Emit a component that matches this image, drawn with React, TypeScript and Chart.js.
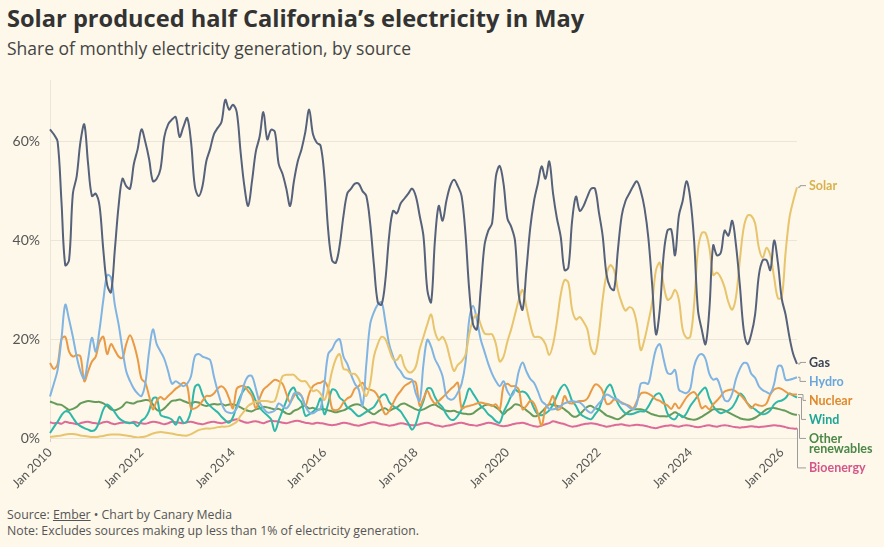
import React, { useEffect, useRef } from 'react';
import { Chart, registerables } from 'chart.js';

Chart.register(...registerables);

// ---------- categories & ticks ----------
const START_YEAR = 2010;
const MONTH_NAMES = ['Jan', 'Feb', 'Mar', 'Apr', 'May', 'Jun', 'Jul', 'Aug', 'Sep', 'Oct', 'Nov', 'Dec'];
const N_MONTHS = 197; // Jan 2010 .. May 2026
const CATEGORIES = Array.from({ length: N_MONTHS }, (_, i) => `${MONTH_NAMES[i % 12]} ${START_YEAR + Math.floor(i / 12)}`);
const X_TICK_LABELS = ['Jan 2010', 'Jan 2012', 'Jan 2014', 'Jan 2016', 'Jan 2018', 'Jan 2020', 'Jan 2022', 'Jan 2024', 'Jan 2026'];
const Y_TICKS = [0, 20, 40, 60];

// ---------- series values (% of monthly generation) ----------
const GAS = [
  62.5, 61.5, 60, 48, 35, 36, 49.5, 53, 60, 63.5, 55.5, 49,
  49.5, 47, 38, 31, 29.5, 38, 47, 52.5, 51, 50.5, 55.5, 58.5,
  62.5, 60, 56.5, 52, 52.5, 54.5, 61, 63.5, 64.5, 65, 61, 63,
  64.8, 60, 51, 49, 51, 56, 58.5, 61.5, 62.8, 64, 68.5, 66.5,
  67.5, 66, 58, 51, 47, 52, 58, 61, 66, 60.5, 62.4, 62,
  55.5, 53.5, 50.5, 47, 52, 56, 58.5, 62, 66.5, 61.5, 59.8, 59.2,
  53, 42, 36, 35.5, 39, 45, 49.5, 50.5, 51.5, 51.5, 50, 49,
  43.5, 35, 27.5, 27, 32, 41, 46, 45.5, 47.5, 48.5, 49.5, 50.5,
  48.9, 45, 40.8, 30, 27.5, 40, 47, 44, 48, 51, 52.3, 51,
  49, 41.5, 30, 23, 22, 30, 39, 42, 43.5, 53, 55.1, 51.5,
  44.5, 42.8, 40, 29, 26, 34, 42.5, 48, 51.5, 55, 52.5, 56,
  49.5, 44.5, 40.8, 34, 34.5, 44, 48.9, 46, 47, 48.9, 50.5, 50.5,
  45.8, 41, 33.2, 30.5, 30, 38, 45, 48, 49.5, 51, 52, 50,
  46.5, 40.5, 31, 21, 26, 37, 42, 42.2, 37, 45, 48, 52,
  48.5, 40, 26, 22, 19, 26, 39, 37, 37.5, 42, 41, 44,
  39, 31, 22, 19, 21, 25, 33, 36, 36, 34, 40, 35.4,
  28.2, 25, 20.5, 17, 15,
];

const SOLAR = [
  0.2, 0.3, 0.4, 0.5, 0.7, 0.8, 0.8, 0.7, 0.5, 0.4, 0.3, 0.2,
  0.2, 0.3, 0.4, 0.6, 0.7, 0.7, 0.7, 0.6, 0.5, 0.4, 0.2, 0.1,
  0.2, 0.3, 0.6, 0.9, 1.1, 1.2, 1.1, 1.0, 0.9, 0.7, 0.6, 0.5,
  0.5, 0.8, 1.2, 1.6, 1.8, 1.9, 1.9, 2.0, 2.2, 2.3, 2.3, 2.4,
  2.8, 3.3, 4.5, 5.5, 6.5, 7.0, 7.3, 7.5, 7.5, 7.5, 7.3, 7.5,
  10.0, 12.5, 12.8, 12.8, 12.8, 12.0, 11.5, 11.5, 10.5, 9.5, 9.7, 9.0,
  7.7, 10.0, 13.5, 16.0, 17.0, 14.0, 13.8, 13.0, 13.0, 12.0, 10.0, 8.5,
  11.0, 16.5, 19.0, 20.5, 20.0, 18.0, 16.0, 15.8, 16.8, 14.5, 13.4, 13.4,
  14.5, 18.0, 20.5, 23.0, 25.0, 21.5, 19.8, 20.5, 19.0, 16.0, 13.6, 14.8,
  15.5, 16.8, 21.0, 24.0, 25.0, 23.0, 21.2, 21.0, 21.0, 19.0, 15.5, 16.5,
  19.5, 22.0, 25.0, 28.0, 30.0, 26.5, 23.0, 20.5, 20.5, 20.2, 19.0, 16.8,
  19.0, 23.5, 29.0, 32.0, 31.5, 26.0, 24.0, 24.5, 23.5, 22.0, 18.0, 17.0,
  21.0, 28.0, 33.0, 35.0, 34.0, 30.0, 27.4, 25.8, 26.5, 26.0, 23.0, 17.8,
  20.0, 23.5, 27.5, 34.0, 35.5, 31.0, 28.0, 28.5, 30.0, 28.0, 22.0, 20.3,
  20.5, 27.0, 38.0, 41.5, 41.5, 38.5, 33.0, 33.5, 32.5, 30.5, 27.5, 26.0,
  28.6, 36.0, 42.5, 45.0, 45.0, 43.5, 38.5, 36.5, 38.5, 37.0, 32.5, 28.3,
  28.5, 37.5, 44.5, 48.0, 50.8,
];

const HYDRO = [
  8.4, 11, 13.8, 20, 27, 24, 20.5, 16.5, 13.5, 12, 16, 20.3,
  17.5, 22, 28, 33, 32.5, 27, 23, 18, 13.5, 11.5, 10, 9,
  8.5, 11, 17.5, 22, 19, 17.5, 16, 13.5, 11, 11.5, 11, 10.5,
  11, 12.5, 16.5, 17, 16.5, 16.2, 15.8, 12.5, 9.5, 7, 5.5, 5.1,
  5.1, 6, 8, 11, 12.5, 12.5, 10, 7.2, 6, 5.2, 5.2, 5.6,
  7, 6.5, 6, 7, 9, 9, 8.5, 6.5, 5.2, 5, 5.5, 6,
  11, 17, 18, 19.5, 20, 16.5, 15, 12.8, 11, 9.8, 6.5, 15,
  23, 25.5, 27, 27.5, 23.5, 19, 16.5, 14.5, 13.5, 12.3, 12, 11.8,
  9, 7.5, 15, 19.9, 18.5, 16, 14.5, 12.5, 8.5, 7.8, 8, 9.2,
  11, 15.2, 24, 26.8, 24, 20, 17.5, 15, 13, 11.5, 10.5, 11.5,
  9.5, 8.5, 9.8, 13.5, 15.3, 13.5, 12, 11.2, 9.5, 7.5, 6.8, 5.9,
  5.8, 6, 6.5, 7, 7.3, 7.5, 7.3, 7.2, 6.5, 5.5, 5.1, 6,
  7, 7.8, 8.8, 8.5, 8, 7.8, 7, 6.8, 6.2, 5.8, 7, 11,
  11.2, 11, 14.5, 18, 19, 16, 13.2, 13, 13.8, 9.8, 9.3, 9.1,
  10, 14.5, 16.5, 17, 16, 13, 11.8, 12, 10, 7.7, 7.5, 9,
  12, 14, 15.2, 15, 13, 12.2, 10.5, 9.7, 9.3, 9, 11, 14.5,
  14.5, 11.8, 11.8, 12, 12.3,
];

const NUCLEAR = [
  15.2, 14, 15, 20, 20.5, 17.5, 16.5, 16.8, 16.5, 11.5, 13.5, 15.5,
  16.5, 19.5, 20.5, 17, 19, 17.8, 16.5, 16.2, 19, 20.8, 19, 16,
  12, 11.2, 8.5, 5.8, 7.5, 8.3, 7.8, 8.5, 9.2, 10, 10.5, 11.2,
  10.5, 6, 6, 6.5, 7.5, 8.5, 8.5, 9, 10, 10.5, 9.8, 8,
  6, 10, 10.5, 10.5, 9.5, 8.5, 6, 8, 9.8, 10.5, 11.2, 11.8,
  11.5, 11, 9, 7.2, 8.5, 9.2, 8.5, 6.5, 9, 10.5, 11, 11.2,
  11.5, 10, 6, 5.6, 6, 7.2, 8, 8.5, 10, 10.5, 11.2, 10,
  9.8, 9.5, 8.5, 6.5, 4.8, 5.5, 7, 8.5, 9.5, 10.5, 11, 11.5,
  11.2, 6.5, 8, 9.5, 8, 7, 7.5, 8.2, 9, 9.8, 10.5, 11.2,
  6, 6.3, 6.5, 6.7, 7, 7.2, 7, 6.8, 6.5, 6.8, 5.8, 10.5,
  11, 10.5, 10.5, 9.8, 5.8, 6.5, 7.5, 7, 5, 2.5, 6, 7,
  8.5, 5.8, 6, 8.5, 7.2, 7, 7.3, 7.5, 7.5, 8, 9.5, 10.8,
  10.6, 9.5, 7, 7, 7.8, 7.5, 7.2, 6.8, 6.5, 6, 7.5, 9,
  9.2, 9, 8.5, 7.8, 7.5, 7, 6.6, 5.9, 7, 6, 7, 8.2,
  9, 9.3, 8.2, 6, 6.5, 5.8, 6.8, 7.6, 8.5, 9.4, 9.7, 9.8,
  9.4, 8.8, 8, 7, 6, 6.8, 6.6, 6.5, 7, 8.8, 9.8, 10.1,
  9.9, 9.4, 8.9, 8.8, 8.8,
];

const WIND = [
  1, 2.2, 3.3, 4.6, 5.4, 5.2, 4.1, 3, 2.4, 2, 1.7, 1.4,
  1.8, 3.5, 5.8, 6.8, 6.2, 5.2, 4.1, 3.5, 3.1, 3.1, 3, 2.4,
  3.5, 4.1, 5.5, 8, 8.1, 4.7, 4.3, 4.1, 3.7, 2.7, 4.3, 3.1,
  3.4, 5.5, 10.3, 10.8, 8.8, 7.3, 6.5, 5.8, 5.2, 4.3, 3.6, 3.1,
  4.2, 6.5, 8.5, 9.8, 10.3, 9.3, 7.5, 6.2, 5.3, 4.6, 3.8, 1.4,
  3.5, 5.5, 7.5, 9.5, 10.2, 8.2, 7.2, 4.5, 4.8, 5.3, 6.2, 8,
  4.8, 7, 9.8, 9.6, 8.2, 7.5, 6.2, 5.8, 5, 4.4, 4.8, 5.3,
  5.8, 6.3, 7.5, 8.6, 8.8, 7.3, 6.5, 6, 5.4, 4.2, 3, 1.7,
  2.9, 5.5, 7.5, 10, 10, 8.3, 7, 6.2, 4.8, 3.8, 3.7, 4.5,
  5.8, 7.8, 10, 9, 7.8, 6.5, 5.8, 4.8, 4.2, 3.4, 3.1, 5.2,
  6.8, 8.5, 9.8, 9.3, 9.4, 9, 7.8, 6, 4.8, 4.6, 5, 5.6,
  6.8, 8.5, 10.1, 10.8, 9.6, 7.5, 6.5, 5, 4.4, 4, 3.8, 4.8,
  5.8, 8, 10, 10.8, 9, 7, 5.8, 5, 4.8, 4.9, 5.2, 5.4,
  5.4, 6.4, 7.8, 8.8, 9, 7.5, 5, 4, 3.8, 4.8, 4.2, 5,
  6.5, 7.5, 8.6, 9.6, 10.2, 8, 6.5, 5.5, 5, 5.3, 5.6, 6.2,
  7.5, 9, 8.4, 7, 6.3, 5.8, 5.2, 4.8, 5, 5.6, 6.8, 7.4,
  7.6, 8.1, 9, 8.6, 8.2,
];

const OTHER_RENEWABLES = [
  7.4, 7.1, 6.8, 6.7, 6.2, 5.7, 5.9, 6.3, 7.0, 7.3, 7.5, 7.4,
  7.3, 7.3, 7.0, 6.5, 5.8, 5.6, 5.9, 6.4, 7.2, 7.1, 7.0, 7.4,
  7.5, 7.7, 7.6, 6.8, 5.7, 5.5, 6.0, 6.8, 7.5, 7.6, 7.8, 7.5,
  7.2, 7.0, 7.3, 7.2, 6.7, 6.5, 6.7, 6.9, 6.8, 6.9, 6.6, 6.8,
  6.8, 6.6, 6.2, 5.8, 5.5, 5.4, 5.8, 6.0, 6.3, 6.2, 6.0, 5.8,
  5.9, 5.5, 5.0, 4.9, 5.5, 5.8, 6.3, 6.5, 6.0, 6.1, 5.8, 5.8,
  5.8, 5.6, 5.4, 5.2, 5.4, 5.6, 6.0, 6.5, 6.8, 6.8, 6.4, 5.8,
  5.2, 4.8, 5.3, 5.8, 6.0, 5.5, 5.9, 6.2, 6.8, 7.0, 6.6, 6.2,
  5.8, 5.6, 5.8, 6.2, 6.6, 6.8, 6.3, 5.8, 5.5, 5.4, 5.5, 5.2,
  5.0, 4.9, 4.8, 5.0, 5.6, 6.1, 6.6, 6.8, 6.6, 6.2, 5.6, 4.8,
  5.6, 6.1, 6.8, 6.7, 6.2, 5.6, 5.0, 4.4, 4.6, 5.3, 6.1, 6.8,
  6.7, 6.5, 6.3, 5.8, 5.2, 4.5, 4.3, 4.8, 5.6, 6.3, 6.5, 6.0,
  5.8, 5.2, 4.6, 4.3, 4.0, 3.8, 4.2, 4.8, 5.4, 5.8, 5.8, 5.8,
  5.6, 5.2, 4.8, 4.6, 4.4, 4.4, 4.4, 4.8, 5.2, 4.8, 4.4, 4.0,
  3.8, 3.7, 3.9, 4.3, 4.8, 5.3, 5.8, 5.8, 5.8, 5.6, 5.2, 4.8,
  4.4, 4.0, 3.8, 3.7, 3.8, 4.1, 4.6, 5.2, 5.8, 6.0, 6.1, 5.9,
  5.7, 5.5, 5.1, 4.8, 4.7,
];

const BIOENERGY = [
  3.2, 3.0, 3.1, 2.9, 3.3, 3.1, 3.0, 2.8, 3.0, 3.2, 3.3, 3.1,
  3.0, 2.9, 3.2, 3.3, 3.0, 2.8, 3.0, 3.1, 3.2, 3.0, 3.3, 3.1,
  3.0, 2.9, 3.1, 3.3, 3.2, 3.0, 2.8, 3.0, 3.3, 3.2, 3.1, 3.0,
  3.2, 3.3, 3.1, 2.9, 2.8, 3.0, 3.2, 3.3, 3.1, 3.0, 3.2, 3.4,
  3.6, 3.8, 3.5, 3.2, 3.1, 3.3, 3.4, 3.2, 3.0, 3.3, 3.5, 3.4,
  3.3, 3.1, 3.0, 3.2, 3.4, 3.5, 3.3, 3.1, 3.0, 2.9, 3.1, 3.0,
  2.9, 2.7, 2.6, 2.7, 2.9, 3.1, 3.0, 2.8, 2.6, 2.5, 2.7, 2.9,
  3.1, 3.2, 3.0, 2.8, 2.7, 2.5, 2.6, 2.8, 3.0, 2.9, 2.7, 2.6,
  2.6, 2.8, 3.0, 3.1, 2.9, 2.6, 2.5, 2.3, 2.5, 2.6, 2.8, 3.0,
  3.1, 2.9, 2.7, 2.6, 2.5, 2.7, 2.9, 3.1, 3.0, 2.8, 2.5, 2.4,
  2.5, 2.7, 2.9, 3.0, 3.1, 2.9, 2.6, 2.4, 2.3, 2.5, 2.8, 3.0,
  3.4, 3.2, 3.0, 2.8, 2.5, 2.3, 2.4, 2.6, 2.8, 2.9, 3.0, 2.9,
  2.7, 2.5, 2.3, 2.4, 2.6, 2.7, 2.8, 2.6, 2.5, 2.6, 2.7, 2.6,
  2.5, 2.3, 2.1, 2.0, 2.2, 2.4, 2.5, 2.6, 2.4, 2.3, 2.5, 2.6,
  2.5, 2.3, 2.2, 2.3, 2.5, 2.6, 2.4, 2.3, 2.5, 2.6, 2.5, 2.3,
  2.2, 2.1, 2.2, 2.3, 2.4, 2.3, 2.2, 2.3, 2.4, 2.5, 2.6, 2.5,
  2.4, 2.2, 2.0, 1.9, 1.9,
];

// ---------- styles ----------
const BG = '#fdf8ea';
const FONT = '"Open Sans", "Noto Sans", sans-serif';
const AXIS_FONT = 'Lato, "Noto Sans", sans-serif';

type SeriesDef = {
  name: string;
  label: string[];
  data: number[];
  line: string;
  text: string;
  elbow: number; // connector elbow offset from chart right edge (px)
};

const SERIES: SeriesDef[] = [
  { name: 'Gas', label: ['Gas'], data: GAS, line: '#56617a', text: '#3a4456', elbow: 3 },
  { name: 'Solar', label: ['Solar'], data: SOLAR, line: '#e8c46c', text: '#d8b14c', elbow: 3 },
  { name: 'Hydro', label: ['Hydro'], data: HYDRO, line: '#80b4e2', text: '#6aa6dc', elbow: 3 },
  { name: 'Nuclear', label: ['Nuclear'], data: NUCLEAR, line: '#ea9a45', text: '#e0892c', elbow: 6 },
  { name: 'Wind', label: ['Wind'], data: WIND, line: '#2fb8a9', text: '#1ea596', elbow: 4.5 },
  { name: 'Other renewables', label: ['Other', 'renewables'], data: OTHER_RENEWABLES, line: '#669b5b', text: '#4b8746', elbow: 2.5 },
  { name: 'Bioenergy', label: ['Bioenergy'], data: BIOENERGY, line: '#de6b97', text: '#d3578a', elbow: 0.5 },
];

const LABEL_GAP = 19;
const LABEL_LINE_H = 10.5;

const endLabels = {
  id: 'endLabels',
  afterDatasetsDraw(chart: any) {
    const { ctx, chartArea } = chart;
    const items = chart.data.datasets.map((_: any, i: number) => {
      const meta = chart.getDatasetMeta(i);
      const pt = meta.data[meta.data.length - 1];
      return { i, x: pt.x, y: pt.y, s: SERIES[i], ly: 0 };
    }).sort((a: any, b: any) => a.y - b.y);

    let prevBottom = -Infinity;
    for (const it of items) {
      const top = Math.max(it.y - 1.5, prevBottom + LABEL_GAP);
      it.ly = top;
      prevBottom = top + LABEL_LINE_H * (it.s.label.length - 1);
    }

    const labelX = chartArea.right + 12;
    ctx.save();
    ctx.lineWidth = 1;
    ctx.strokeStyle = '#9c9c9c';
    for (const it of items) {
      const ex = chartArea.right + it.s.elbow;
      ctx.beginPath();
      ctx.moveTo(it.x + 1, it.y);
      ctx.lineTo(ex, it.y);
      ctx.lineTo(ex, it.ly);
      ctx.lineTo(labelX - 3, it.ly);
      ctx.stroke();
    }
    ctx.font = `700 12.5px ${AXIS_FONT}`;
    ctx.textAlign = 'left';
    ctx.textBaseline = 'middle';
    for (const it of items) {
      ctx.fillStyle = it.s.text;
      it.s.label.forEach((t: string, k: number) => {
        ctx.fillText(t, labelX, it.ly + k * LABEL_LINE_H + 0.5);
      });
    }
    ctx.restore();
  },
};

export default function App() {
  const canvasRef = useRef<HTMLCanvasElement | null>(null);

  useEffect(() => {
    if (!canvasRef.current) return;
    const chart = new Chart(canvasRef.current, {
      type: 'line',
      data: {
        labels: CATEGORIES,
        datasets: SERIES.map((s) => ({
          label: s.name,
          data: s.data,
          borderColor: s.line,
          backgroundColor: s.line,
          borderWidth: 2,
          pointRadius: 0,
          tension: 0.35,
          fill: false,
        })),
      },
      options: {
        responsive: false,
        animation: false,
        events: [],
        layout: { padding: { top: 80, right: 87, left: 0, bottom: 0 } },
        plugins: {
          legend: { display: false },
          tooltip: { enabled: false },
          title: { display: false },
        },
        scales: {
          x: {
            type: 'category',
            offset: false,
            border: { display: false },
            grid: {
              drawOnChartArea: false,
              drawTicks: true,
              tickLength: 4,
              color: (c: any) => (X_TICK_LABELS.includes(CATEGORIES[c.index]) ? '#d6d1c2' : 'rgba(0,0,0,0)'),
            },
            ticks: {
              autoSkip: false,
              minRotation: 45,
              maxRotation: 45,
              padding: 3,
              color: '#555',
              font: { family: AXIS_FONT, size: 12.5 },
              callback: function (this: any, value: any) {
                const lab = CATEGORIES[value as number];
                return X_TICK_LABELS.includes(lab) ? lab : null;
              },
            },
            afterFit: (scale: any) => {
              scale.height = 62;
            },
          },
          y: {
            type: 'linear',
            min: 0,
            max: 72.5,
            border: { display: true, color: '#ebe6d8' },
            grid: { color: '#ebe6d8', drawTicks: false, lineWidth: 1 },
            ticks: {
              padding: 10,
              color: '#555',
              font: { family: AXIS_FONT, size: 14 },
              callback: (v: any) => `${v}%`,
            },
            afterBuildTicks: (scale: any) => {
              scale.ticks = Y_TICKS.map((v) => ({ value: v }));
            },
            afterFit: (scale: any) => {
              scale.width = 50;
            },
          },
        },
      },
      plugins: [endLabels],
    });
    return () => chart.destroy();
  }, []);

  return (
    <div
      style={{
        position: 'absolute',
        left: 0,
        top: 0,
        width: 884,
        height: 547,
        background: BG,
        fontFamily: FONT,
        overflow: 'hidden',
      }}
    >
      <div style={{ position: 'absolute', left: 7, top: 3, fontSize: 23.6, lineHeight: '30px', fontWeight: 700, color: '#333', whiteSpace: 'nowrap' }}>
        Solar produced half California’s electricity in May
      </div>
      <div style={{ position: 'absolute', left: 7, top: 37, fontSize: 17.5, lineHeight: '23px', color: '#444', whiteSpace: 'nowrap' }}>
        Share of monthly electricity generation, by source
      </div>
      <canvas ref={canvasRef} width={884} height={500} style={{ position: 'absolute', left: 0, top: 0, width: 884, height: 500 }} />
      <div style={{ position: 'absolute', left: 7, top: 507, fontSize: 12.3, lineHeight: '16px', color: '#555', whiteSpace: 'nowrap' }}>
        Source: <span style={{ textDecoration: 'underline' }}>Ember</span> • Chart by Canary Media
      </div>
      <div style={{ position: 'absolute', left: 7, top: 523, fontSize: 12.3, lineHeight: '16px', color: '#555', whiteSpace: 'nowrap' }}>
        Note: Excludes sources making up less than 1% of electricity generation.
      </div>
    </div>
  );
}
